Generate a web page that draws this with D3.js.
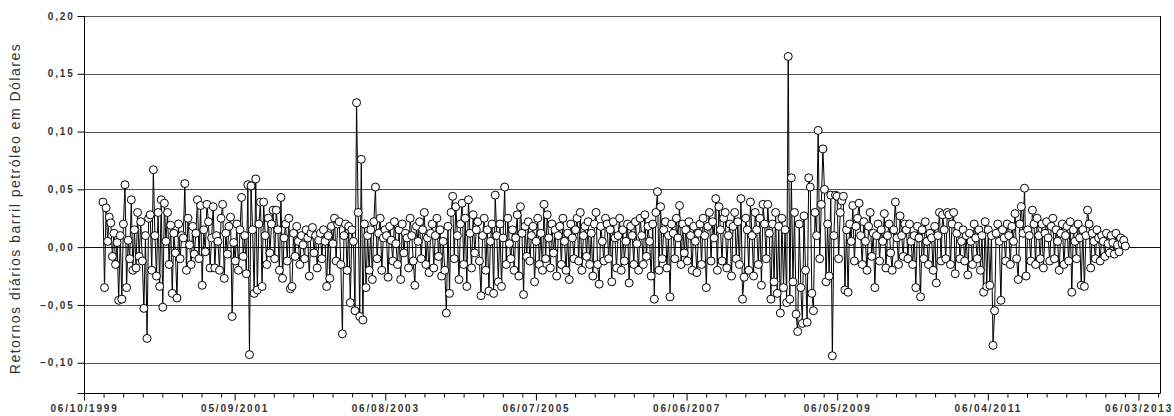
<!DOCTYPE html>
<html>
<head>
<meta charset="utf-8">
<script src="https://cdn.jsdelivr.net/npm/d3@7"></script>
<style>
  body { margin: 0; background: #fff; }
  svg { display: block; font-family: "Liberation Sans", Arial, sans-serif; }
</style>
</head>
<body>
<script>
// tick labels of the y axis
var yTicks = [0.20, 0.15, 0.10, 0.05, 0.00, -0.05, -0.10];

// first and last observation (dates of the returns series)
var firstObs = "2000-01-02";
var lastObs = "2013-01-04";

// daily returns, in order
var returns = [
  0.039, -0.035, 0.034, 0.005, 0.026, 0.021, -0.008, 0.012, -0.015, 0.004,
  -0.046, 0.010, -0.045, 0.020, 0.054, -0.035, 0.006, -0.010, 0.041, -0.020,
  0.015, -0.018, 0.030, -0.008, 0.022, -0.012, -0.053, 0.010, -0.079, 0.025,
  0.028, -0.020, 0.067, 0.010, -0.025, 0.030, -0.034, 0.041, -0.052, 0.038,
  0.005, 0.030, -0.015, 0.019, -0.040, 0.012, -0.005, -0.044, 0.020, -0.010,
  0.010, 0.008, 0.055, -0.020, 0.025, 0.002, -0.015, 0.018, -0.006, 0.012,
  0.041, -0.010, 0.036, -0.033, 0.015, -0.004, 0.037, 0.022, -0.018, 0.008,
  0.035, -0.018, 0.010, 0.005, -0.020, 0.025, 0.037, -0.027, 0.012, -0.006,
  0.018, 0.026, -0.060, 0.004, -0.012, 0.020, -0.020, 0.015, 0.043, -0.008,
  0.010, -0.023, 0.054, -0.093, 0.053, 0.015, -0.040, 0.059, -0.037, 0.020,
  0.039, -0.034, 0.039, 0.010, -0.015, 0.025, -0.005, 0.020, 0.032, -0.010,
  0.032, 0.015, -0.020, 0.043, -0.027, 0.008, 0.020, -0.012, 0.025, -0.036,
  -0.034, 0.012, -0.008, 0.018, 0.005, -0.015, 0.010, 0.002, -0.010, 0.015,
  0.008, -0.025, 0.012, 0.017, -0.005, 0.010, -0.018, 0.006, 0.012, -0.010,
  0.015, 0.005, -0.034, 0.010, -0.027, 0.018, 0.003, 0.025, -0.012, 0.020,
  0.022, -0.015, -0.075, 0.010, 0.020, -0.020, 0.018, -0.048, 0.015, 0.005,
  -0.055, 0.125, 0.030, -0.060, 0.076, -0.063, 0.020, -0.035, 0.010, -0.020,
  0.015, -0.028, 0.022, 0.052, -0.010, 0.012, 0.025, -0.020, 0.008, 0.015,
  0.010, -0.026, 0.018, 0.006, -0.012, 0.022, 0.003, -0.015, 0.015, -0.028,
  0.020, -0.005, 0.012, 0.008, -0.018, 0.025, 0.010, -0.012, -0.033, 0.018,
  0.005, 0.022, -0.010, 0.015, 0.030, -0.015, 0.008, -0.022, 0.012, 0.020,
  -0.018, 0.010, 0.025, -0.008, 0.015, -0.025, 0.005, -0.020, -0.057, 0.018,
  -0.040, 0.030, 0.044, -0.010, 0.035, 0.010, -0.028, 0.020, 0.038, -0.015,
  0.025, -0.034, 0.041, 0.012, -0.018, 0.028, -0.005, 0.015, 0.022, -0.012,
  -0.042, 0.010, 0.025, -0.020, 0.015, -0.038, 0.005, 0.020, -0.040, 0.045,
  0.010, -0.030, 0.020, -0.034, 0.008, 0.052, -0.015, 0.025, 0.003, -0.010,
  0.015, -0.020, 0.008, 0.028, -0.025, 0.035, 0.012, -0.041, 0.018, -0.008,
  0.022, -0.012, 0.010, 0.018, -0.030, 0.005, 0.025, -0.015, 0.012, -0.020,
  0.037, -0.010, 0.028, 0.008, -0.018, 0.020, -0.005, 0.015, -0.025, 0.010,
  0.018, -0.015, 0.025, 0.005, -0.020, 0.012, -0.028, 0.020, 0.008, -0.010,
  0.015, 0.025, -0.012, 0.030, -0.020, 0.010, 0.018, -0.008, 0.022, -0.015,
  0.012, -0.025, 0.020, 0.030, -0.015, -0.032, 0.018, 0.005, -0.012, 0.025,
  0.020, -0.010, 0.015, -0.030, 0.022, 0.008, -0.018, 0.010, 0.025, -0.020,
  0.015, -0.012, 0.005, 0.020, -0.031, 0.018, 0.010, -0.015, 0.022, 0.003,
  -0.020, 0.025, 0.010, -0.015, 0.028, -0.008, 0.018, 0.005, -0.025, 0.020,
  -0.045, 0.030, 0.048, -0.020, 0.035, -0.010, 0.015, 0.022, -0.018, 0.010,
  -0.043, 0.020, 0.012, -0.010, 0.025, 0.008, 0.036, -0.015, 0.020, -0.005,
  0.015, -0.012, 0.022, 0.010, -0.020, 0.018, 0.005, -0.022, 0.012, 0.020,
  -0.015, 0.025, 0.010, -0.035, 0.018, 0.030, -0.012, 0.022, 0.008, 0.042,
  -0.020, 0.035, 0.015, -0.012, 0.025, 0.030, -0.018, 0.010, 0.020, -0.025,
  0.018, 0.030, -0.010, 0.022, -0.015, 0.042, -0.045, -0.026, 0.025, 0.015,
  -0.020, 0.039, 0.010, -0.025, 0.030, 0.015, -0.015, 0.025, -0.033, 0.037,
  0.020, -0.010, 0.037, 0.012, -0.045, 0.020, -0.030, 0.030, -0.040, 0.018,
  -0.057, 0.025, -0.035, 0.015, -0.048, 0.165, -0.045, 0.060, -0.030, 0.030,
  -0.058, -0.073, 0.020, -0.035, -0.066, 0.027, -0.020, -0.065, 0.060, 0.052,
  -0.040, -0.055, 0.030, 0.010, 0.101, -0.010, 0.037, 0.085, 0.050, -0.030,
  0.020, -0.025, 0.045, -0.094, 0.010, 0.045, 0.044, -0.010, 0.030, 0.040,
  0.044, -0.037, 0.015, -0.039, 0.020, 0.005, 0.036, -0.012, 0.018, 0.025,
  0.038, 0.010, -0.015, 0.022, 0.005, -0.020, 0.018, 0.030, -0.008, 0.012,
  -0.035, 0.010, 0.020, -0.012, 0.015, 0.005, 0.029, -0.018, 0.010, 0.020,
  -0.005, -0.020, 0.015, 0.039, 0.008, -0.015, 0.027, 0.010, -0.008, 0.020,
  0.015, -0.010, 0.020, 0.005, -0.015, 0.010, -0.035, 0.018, 0.008, -0.043,
  0.015, -0.010, 0.022, 0.005, -0.015, 0.012, 0.008, -0.020, 0.018, -0.031,
  0.010, 0.030, -0.012, 0.028, 0.015, -0.010, 0.030, 0.028, -0.015, 0.020,
  0.030, -0.023, 0.012, 0.018, -0.010, 0.005, 0.015, -0.012, 0.010, -0.024,
  0.012, 0.005, -0.015, 0.020, 0.008, -0.010, 0.015, -0.020, 0.010, -0.039,
  0.022, -0.034, 0.015, -0.033, 0.010, -0.085, -0.055, 0.012, 0.020, 0.005,
  -0.046, 0.015, 0.008, -0.012, 0.020, 0.010, -0.015, 0.018, 0.005, 0.029,
  -0.010, -0.028, 0.020, 0.035, 0.012, 0.051, -0.025, 0.015, 0.010, -0.012,
  0.032, 0.020, -0.015, 0.025, 0.010, -0.010, 0.020, -0.018, 0.012, 0.022,
  0.008, -0.012, 0.018, 0.025, -0.010, 0.015, 0.005, -0.020, 0.012, 0.020,
  -0.015, 0.010, 0.018, -0.012, 0.022, -0.039, 0.015, 0.005, -0.010, 0.020,
  0.008, -0.033, 0.015, -0.034, 0.010, 0.032, 0.020, -0.018, 0.012, 0.005,
  -0.010, 0.015, 0.008, -0.012, 0.010, 0.005, -0.008, 0.012, 0.003, -0.005,
  0.010, 0.004, -0.006, 0.012, 0.002, -0.004, 0.008, 0.003, 0.006, 0.001
];

var width = 1174, height = 416;
var margin = { top: 16, right: 14, bottom: 23, left: 84 };

var parse = d3.utcParse("%Y-%m-%d");
var axisStart = Date.UTC(1999, 9, 6); // 06/10/1999
var t0 = parse(firstObs), t1 = parse(lastObs);

var data = returns.map(function(v, i) {
  return { date: new Date(+t0 + (t1 - t0) * i / (returns.length - 1)), value: v };
});

var x = d3.scaleUtc()
    .domain([new Date(axisStart), d3.utcDay.offset(new Date(axisStart), 5000)])
    .range([margin.left, width - margin.right]);

var y = d3.scaleLinear()
    .domain([-0.1262, 0.2])
    .range([height - margin.bottom, margin.top]);

var svg = d3.select("body").append("svg")
    .attr("width", width)
    .attr("height", height);

// horizontal grid lines
svg.append("g")
  .selectAll("line")
  .data(yTicks)
  .enter().append("line")
    .attr("x1", margin.left)
    .attr("x2", width - margin.right)
    .attr("y1", function(d) { return Math.round(y(d)) + 0.5; })
    .attr("y2", function(d) { return Math.round(y(d)) + 0.5; })
    .attr("stroke", function(d) { return d === 0 ? "#111" : "#555"; })
    .attr("stroke-width", 1);

// series line
var line = d3.line()
    .x(function(d) { return x(d.date); })
    .y(function(d) { return y(d.value); });

svg.append("path")
    .datum(data)
    .attr("d", line)
    .attr("fill", "none")
    .attr("stroke", "#000")
    .attr("stroke-width", 1);

// open markers
svg.append("g")
  .selectAll("circle")
  .data(data)
  .enter().append("circle")
    .attr("cx", function(d) { return x(d.date); })
    .attr("cy", function(d) { return y(d.value); })
    .attr("r", 4)
    .attr("fill", "#fff")
    .attr("stroke", "#000")
    .attr("stroke-width", 1);

// y axis
var yAxis = d3.axisLeft(y)
    .tickValues(yTicks)
    .tickSize(7)
    .tickPadding(5)
    .tickFormat(function(d) { return d3.format(".2f")(d).replace(".", ","); });

var gy = svg.append("g")
    .attr("transform", "translate(" + (margin.left + 0.5) + ",0)")
    .call(yAxis);
gy.select(".domain").remove();
gy.selectAll(".tick line").attr("stroke", "#000");
gy.selectAll(".tick text")
    .attr("fill", "#333")
    .attr("x", -10)
    .style("font-size", "10px")
    .style("font-weight", "bold")
    .style("letter-spacing", "1.8px")
    .style("font-family", "Liberation Sans, Arial, sans-serif");

// x axis: major ticks every 700 days, minor every 91 days
var majors = d3.range(0, 8).map(function(k) { return d3.utcDay.offset(new Date(axisStart), 700 * k); });
var minors = [];
majors.forEach(function(m) {
  for (var j = 1; j <= 7; j++) {
    var d = d3.utcDay.offset(m, 91 * j);
    if (d <= x.domain()[1]) minors.push(d);
  }
});

var gx = svg.append("g")
    .attr("transform", "translate(0," + (height - margin.bottom + 0.5) + ")");

gx.append("g")
    .call(d3.axisBottom(x).tickValues(minors).tickSize(4).tickFormat(""))
    .call(function(g) { g.select(".domain").remove(); });

var gxMajor = gx.append("g")
    .call(d3.axisBottom(x)
      .tickValues(majors)
      .tickSize(7)
      .tickPadding(4)
      .tickFormat(d3.utcFormat("%d/%m/%Y")));
gxMajor.select(".domain").remove();
gxMajor.selectAll(".tick text")
    .attr("fill", "#333")
    .style("font-size", "10px")
    .style("font-weight", "bold")
    .style("letter-spacing", "1.8px")
    .style("font-family", "Liberation Sans, Arial, sans-serif");

// frame: left, bottom and right lines
var xl = margin.left + 0.5, xr = width - margin.right + 0.5;
var yt = margin.top, yb = height - margin.bottom + 0.5;
svg.append("path")
    .attr("d", "M" + (xl - 7) + "," + yb + "H" + xr + "M" + xl + "," + yt + "V" + yb + "M" + xr + "," + yt + "V" + yb)
    .attr("fill", "none")
    .attr("stroke", "#000");

// y axis title
svg.append("text")
    .attr("transform", "translate(20," + ((margin.top + height - margin.bottom) / 2 + 4) + ") rotate(-90)")
    .attr("text-anchor", "middle")
    .attr("fill", "#333")
    .style("font-size", "14px")
    .style("letter-spacing", "1.5px")
    .text("Retornos diários barril petróleo em Dólares");
</script>
</body>
</html>
